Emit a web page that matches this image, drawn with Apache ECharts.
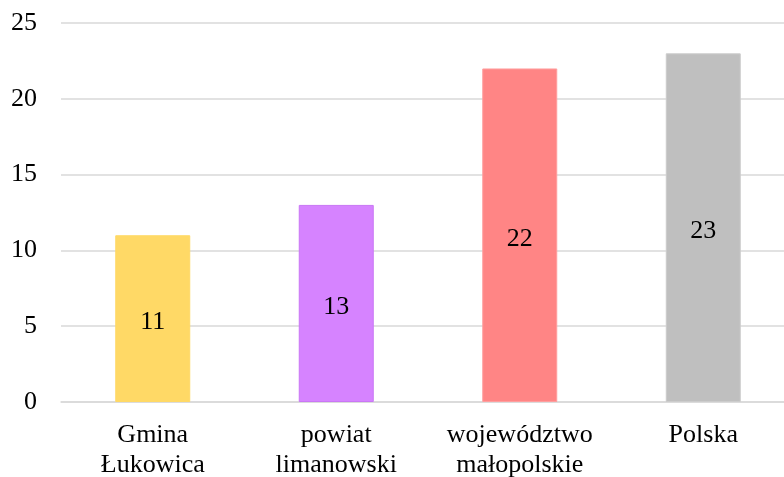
<!DOCTYPE html>
<html>
<head>
<meta charset="utf-8">
<script src="https://cdn.jsdelivr.net/npm/echarts@6/dist/echarts.min.js"></script>
<style>
  html, body { margin: 0; padding: 0; background: #fff; }
  #main { width: 784px; height: 477px; }
</style>
</head>
<body>
<div id="main"></div>
<script>
// dane
var categories = ["Gmina\nŁukowica", "powiat\nlimanowski", "województwo\nmałopolskie", "Polska"];
var values = [11, 13, 22, 23];
var barColors = ["#FFD966", "#D683FF", "#FF8585", "#BFBFBF"];
var borderColors = ["#FFD966", "#C977F5", "#FF9E9E", "#CCCCCC"];
var yTicks = [0, 5, 10, 15, 20, 25];

var font = "'Liberation Serif', 'Times New Roman', serif";

var chart = echarts.init(document.getElementById("main"));
chart.setOption({
  animation: false,
  grid: {
    left: 61, top: 23, width: 734, height: 379,
    containLabel: false,
    outerBoundsMode: "none"
  },
  xAxis: {
    type: "category",
    data: categories,
    axisLine: { lineStyle: { color: "#D9D9D9", width: 1.5 } },
    axisTick: { show: false },
    axisLabel: {
      color: "#000",
      fontFamily: font,
      fontSize: 26,
      lineHeight: 30,
      margin: 18,
      interval: 0
    }
  },
  yAxis: {
    type: "value",
    min: yTicks[0],
    max: yTicks[yTicks.length - 1],
    interval: 5,
    axisLine: { show: false },
    axisTick: { show: false },
    splitLine: { lineStyle: { color: "#D9D9D9", width: 1.5 } },
    axisLabel: {
      color: "#000",
      fontFamily: font,
      fontSize: 26,
      margin: 24
    }
  },
  series: [
    {
      type: "bar",
      barWidth: 75,
      data: values.map(function (v, i) {
        return {
          value: v,
          itemStyle: { color: barColors[i], borderColor: borderColors[i], borderWidth: 1 }
        };
      }),
      label: {
        show: true,
        position: "inside",
        offset: [0, 4],
        color: "#000",
        fontFamily: font,
        fontSize: 26
      }
    }
  ]
});
</script>
</body>
</html>
